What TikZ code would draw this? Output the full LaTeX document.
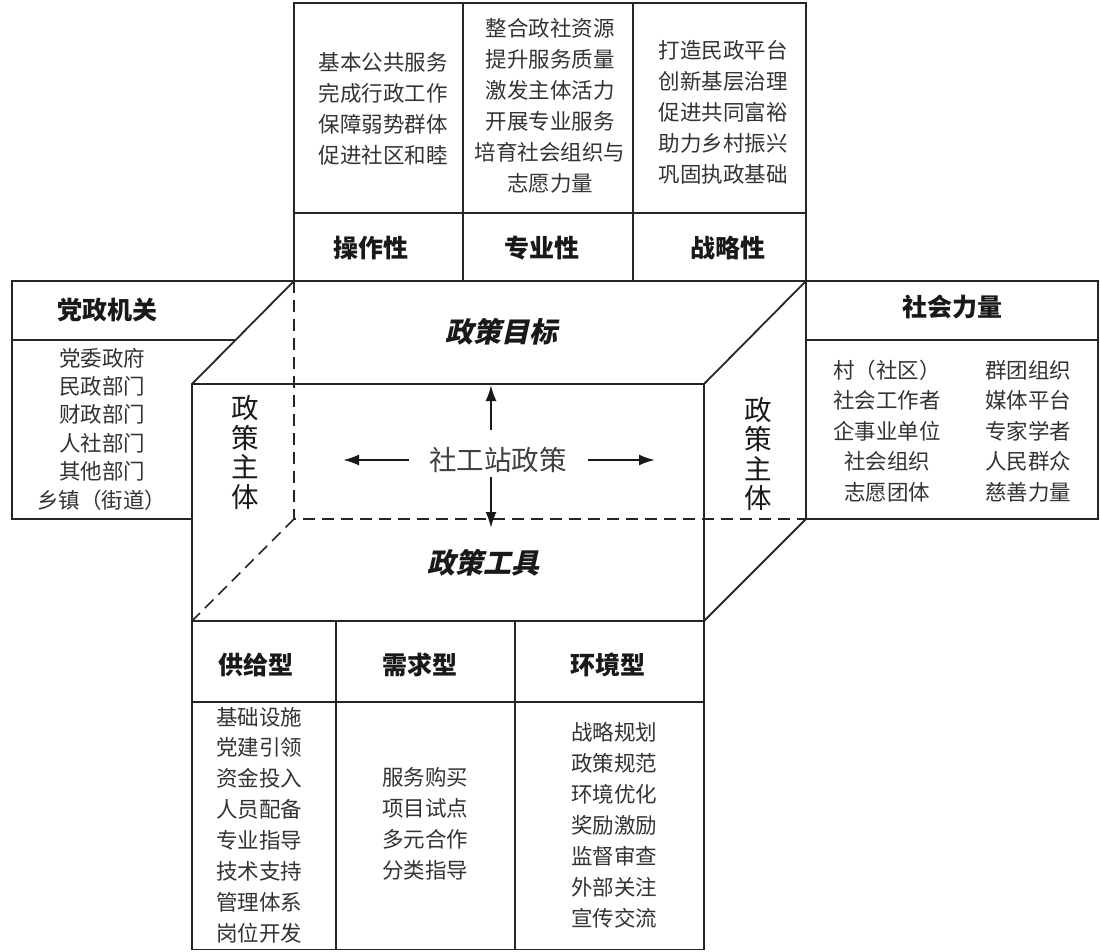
\documentclass[tikz,border=0pt]{standalone}
\usepackage{fontspec}
\setmainfont{Noto Sans CJK SC}
\newfontfamily\slantfont{Noto Sans CJK SC}[FakeSlant=0.22]
\usetikzlibrary{arrows.meta}
\begin{document}
\begin{tikzpicture}[x=1pt,y=-1pt,
  ln/.style={line width=1.8pt, draw=black!85},
  dsh/.style={ln, line width=1.6pt, dash pattern=on 12pt off 7pt},
  hd/.style={font=\fontsize{25}{30}\selectfont\bfseries, text=black!90, inner sep=0pt},
  it/.style={font=\fontsize{21.5}{31}\selectfont, align=center, text=black!80, inner sep=0pt},
  vt/.style={font=\fontsize{27.5}{29.6}\selectfont, align=center, text=black!90, inner sep=0pt},
  ttl/.style={font=\fontsize{28}{30}\slantfont\bfseries\selectfont, text=black!90, inner sep=0pt},
  arr/.style={line width=2.2pt, draw=black!90, -{Latex[length=16pt,width=11pt]}}
]
\useasboundingbox[fill=white] (0,0) rectangle (1101,951);

% cube corners
\coordinate (B1) at (294,281);
\coordinate (B2) at (806,281);
\coordinate (B3) at (806,519);
\coordinate (B4) at (294,519);
\coordinate (F1) at (192,384);
\coordinate (F2) at (704,384);
\coordinate (F3) at (704,621);
\coordinate (F4) at (192,621);

% top table
\draw[ln] (294,3) rectangle (806,281);
\draw[ln] (294,213) -- (806,213);
\draw[ln] (463,3) -- (463,281);
\draw[ln] (633,3) -- (633,281);

% left box
\draw[ln] (B1) -- (12,281) -- (12,519) -- (192,519);
\draw[ln] (12,340) -- (235.6,340);

% right box
\draw[ln] (806,281) rectangle (1098,519);
\draw[ln] (806,340) -- (1098,340);

% bottom table
\draw[ln] (192,621) rectangle (704,949.5);
\draw[ln] (192,702) -- (704,702);
\draw[ln] (336,621) -- (336,949.5);
\draw[ln] (515,621) -- (515,949.5);

% cube
\draw[ln] (F1) rectangle (F3);
\draw[ln] (F1) -- (B1) -- (B2) -- (F2);
\draw[ln] (F3) -- (B3);
\draw[dsh] (B1) -- (B4) -- (B3);
\draw[dsh] (B4) -- (F4);

% top table texts
\node[it] (t1) at (383,108.5) {基本公共服务\\完成行政工作\\保障弱势群体\\促进社区和睦};
\node[it] (t2) at (550,105.5) {整合政社资源\\提升服务质量\\激发主体活力\\开展专业服务\\培育社会组织与\\志愿力量};
\node[it] (t3) at (723,112.5) {打造民政平台\\创新基层治理\\促进共同富裕\\助力乡村振兴\\巩固执政基础};
\node[hd] (h1) at (371,248) {操作性};
\node[hd] (h2) at (542,248) {专业性};
\node[hd] (h3) at (728,248) {战略性};

% left box texts
\node[hd] (lh) at (107,310) {党政机关};
\node[it, font=\fontsize{21.5}{28.4}\selectfont] (li) at (102,429) {党委政府\\民政部门\\财政部门\\人社部门\\其他部门\\乡镇（街道）};

% right box texts
\node[hd] (rh) at (952,307) {社会力量};
\node[it, font=\fontsize{21.5}{30.5}\selectfont] (r1) at (887,431) {村（社区）\\社会工作者\\企事业单位\\社会组织\\志愿团体};
\node[it, font=\fontsize{21.5}{30.5}\selectfont] (r2) at (1028,431) {群团组织\\媒体平台\\专家学者\\人民群众\\慈善力量};

% bottom table texts
\node[hd] (bh1) at (256,665) {供给型};
\node[hd] (bh2) at (420,665) {需求型};
\node[hd] (bh3) at (608,665) {环境型};
\node[it, font=\fontsize{21.5}{30.9}\selectfont] (b1) at (259,825) {基础设施\\党建引领\\资金投入\\人员配备\\专业指导\\技术支持\\管理体系\\岗位开发};
\node[it] (b2) at (425,823.5) {服务购买\\项目试点\\多元合作\\分类指导};
\node[it] (b3) at (614,825) {战略规划\\政策规范\\环境优化\\奖励激励\\监督审查\\外部关注\\宣传交流};

% cube texts
\node[ttl] (goal) at (501,332) {政策目标};
\node[ttl] (tool) at (483,563) {政策工具};
\node[vt] (ls) at (245,452.5) {政\\策\\主\\体};
\node[vt] (rs) at (758.5,454) {政\\策\\主\\体};
\node[font=\fontsize{27.5}{30}\selectfont, text=black!75, inner sep=0pt] (c) at (498,460) {社工站政策};

% arrows
\coordinate (uT) at (491,430);
\coordinate (uH) at (491,385);
\coordinate (dT) at (491,477);
\coordinate (dH) at (491,528);
\coordinate (lT) at (409,460);
\coordinate (lH) at (343,460);
\coordinate (rT) at (588,460);
\coordinate (rH) at (655,460);
\draw[arr] (uT) -- (uH);
\draw[arr] (dT) -- (dH);
\draw[arr] (lT) -- (lH);
\draw[arr] (rT) -- (rH);
\end{tikzpicture}
\end{document}
